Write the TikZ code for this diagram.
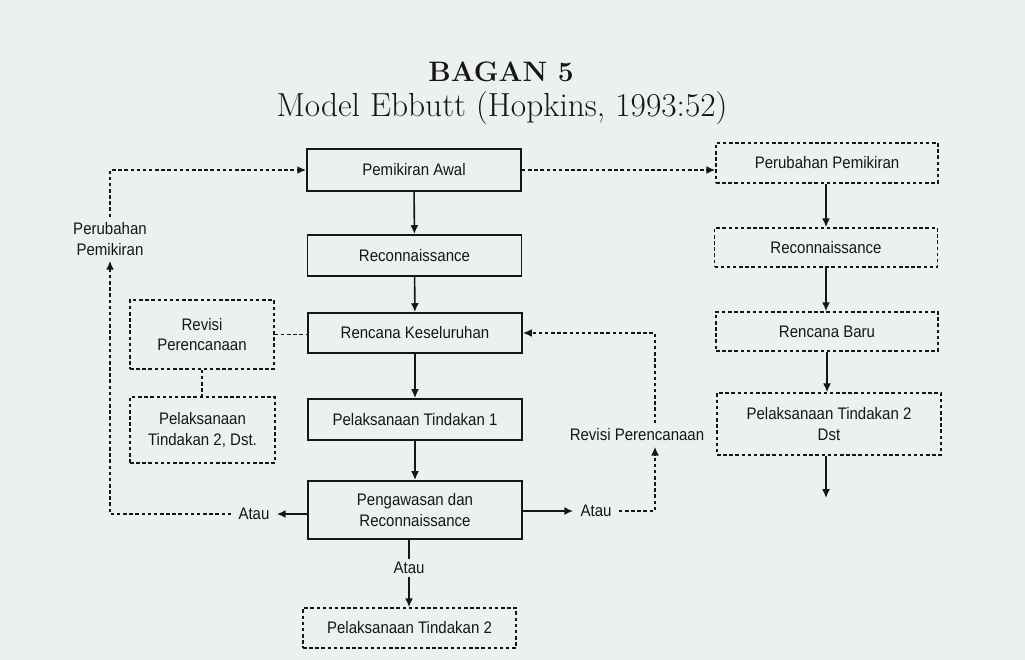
\documentclass[tikz,border=0pt]{standalone}
\usepackage{fontspec}
\setsansfont{Liberation Sans}[FakeStretch=0.9]
\usepackage{xcolor}
\usetikzlibrary{arrows.meta, positioning}
\definecolor{kertas}{RGB}{236,241,240}
\definecolor{tinta}{RGB}{22,22,22}
\tikzset{
  kotak/.style={draw=tinta, line width=1.1pt, minimum width=4.28cm, minimum height=0.82cm, align=center, inner sep=2pt},
  kotakputus/.style={draw=tinta, line width=0.9pt, dash pattern=on 2pt off 1.5pt, align=center, inner sep=2pt},
  teks/.style={align=center, inner sep=1.5pt},
  panah/.style={draw=tinta, line width=0.9pt, -{Latex[length=5pt,width=4.5pt]}},
  garis/.style={draw=tinta, line width=0.9pt},
  putus/.style={draw=tinta, line width=0.9pt, dash pattern=on 2pt off 1.5pt},
  panahputus/.style={putus, -{Latex[length=5pt,width=4.5pt]}}
}

\begin{document}
\begin{tikzpicture}[every node/.style={font=\sffamily\fontsize{9.5}{11.5}\selectfont, text=tinta}]
            \fill[kertas] (0,0) rectangle (20.5,13.2);
            \node[font=\rmfamily\bfseries\fontsize{16}{19}\selectfont, anchor=base] (judul) at (10.02,11.56) {BAGAN 5};
            \node[font=\rmfamily\fontsize{19}{22}\selectfont, anchor=base] (subjudul) at (10.04,10.86) {Model Ebbutt (Hopkins, 1993:52)};

            \node[kotak, minimum height=0.84cm] (awal) at (8.28,9.80) {Pemikiran Awal};
            \node[kotak] (recon) at (8.29,8.09) {Reconnaissance};
            \node[kotak, minimum height=0.80cm] (rencana) at (8.30,6.54) {Rencana Keseluruhan};
            \node[kotak] (tind1) at (8.30,4.81) {Pelaksanaan Tindakan 1};
            \node[kotak, minimum height=1.16cm] (awas) at (8.30,3.00) {Pengawasan dan\\Reconnaissance};
            \node[kotakputus, minimum width=4.26cm, minimum height=0.80cm] (tind2) at (8.19,0.64) {Pelaksanaan Tindakan 2};

            \node[kotakputus, minimum width=2.88cm, minimum height=1.38cm] (revisiL) at (4.04,6.51) {Revisi\\Perencanaan};
            \node[kotakputus, minimum width=2.90cm, minimum height=1.32cm] (tindL) at (4.05,4.60) {Pelaksanaan\\Tindakan 2, Dst.};

            \node[kotakputus, minimum width=4.44cm, minimum height=0.80cm] (ubahR) at (16.54,9.94) {Perubahan Pemikiran};
            \node[kotakputus, minimum width=4.46cm, minimum height=0.78cm] (reconR) at (16.52,8.25) {Reconnaissance};
            \node[kotakputus, minimum width=4.44cm, minimum height=0.78cm] (baruR) at (16.54,6.57) {Rencana Baru};
            \node[kotakputus, minimum width=4.48cm, minimum height=1.24cm] (tindR) at (16.58,4.72) {Pelaksanaan Tindakan 2\\Dst};
            \coordinate (ujungR) at (16.52,3.24);

            \node[teks, inner sep=4pt] (atauL) at (5.08,2.92) {Atau};
            \node[teks, inner sep=4pt] (atauR) at (11.92,2.98) {Atau};
            \node[teks, fill=kertas] (atauB) at (8.18,1.84) {Atau};
            \node[teks, inner sep=3pt] (ubahL) at (2.20,8.42) {Perubahan\\Pemikiran};
            \node[teks, inner sep=3pt] (revisiR) at (12.74,4.50) {Revisi Perencanaan};
            \coordinate (lajurR) at (13.10,6.58);

            \draw[panah] (awal) -- (recon);
            \draw[panah] (recon) -- (rencana);
            \draw[panah] (rencana) -- (tind1);
            \draw[panah] (tind1) -- (awas);
            \draw[panah] (awas.west |- atauL) -- (atauL.east);
            \draw[panah] (awas.east |- atauR) -- (atauR.west);
            \draw[garis] (awas.south -| atauB.north) -- (atauB.north);
            \draw[panah] (atauB.south) -- (tind2.north -| atauB.south);

            \draw[panahputus] (atauL.west) -| (ubahL.south);
            \draw[panahputus] (ubahL.north) |- (awal.west);
            \draw[panahputus] (awal.east) -- (awal.east -| ubahR.west);
            \draw[putus] (revisiL.east) -- (revisiL.east -| rencana.west);
            \draw[putus] (revisiL.south) -- (revisiL.south |- tindL.north);

            \draw[panah] (ubahR.south -| reconR.north) -- (reconR.north);
            \draw[panah] (reconR.south) -- (reconR.south |- baruR.north);
            \draw[panah] (baruR.south) -- (baruR.south |- tindR.north);
            \draw[panah] (tindR.south -| ujungR) -- (ujungR);

            \draw[panahputus] (atauR.east) -| (lajurR |- revisiR.south);
            \draw[panahputus] (lajurR |- revisiR.north) |- (rencana.east);
        \end{tikzpicture}
\end{document}
